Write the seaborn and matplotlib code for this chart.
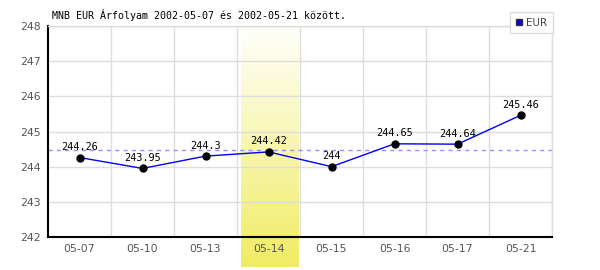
import numpy as np
import pandas as pd
import matplotlib
matplotlib.use("Agg")
import matplotlib.pyplot as plt
import seaborn as sns
from matplotlib.lines import Line2D
from matplotlib.colors import LinearSegmentedColormap

dates = ["05-07", "05-10", "05-13", "05-14", "05-15", "05-16", "05-17", "05-21"]
values = [244.26, 243.95, 244.3, 244.42, 244.0, 244.65, 244.64, 245.46]
labels = ["244.26", "243.95", "244.3", "244.42", "244", "244.65", "244.64", "245.46"]
highlight = "05-14"
title = "MNB EUR Árfolyam 2002-05-07 és 2002-05-21 között."
series_name = "EUR"

sns.set_theme(style="white")
plt.rcParams['font.family'] = ['DejaVu Sans']

df = pd.DataFrame({"date": dates, "value": values})

fig = plt.figure(figsize=(6, 2.7), dpi=100)
ax = fig.add_axes([48/600, 1-237/270, 504/600, 211/270])

ymin, ymax = 242, 248
ax.set_ylim(ymin, ymax)
ax.set_xlim(-0.5, len(dates)-0.5)

# highlight gradient band
hi = dates.index(highlight)
cmap = LinearSegmentedColormap.from_list("hl", ["#fffffc", "#f0ec62"])
grad = np.linspace(0, 1, 256).reshape(-1, 1)
ybot = ymin - 30 * (ymax - ymin) / 211
ax.imshow(grad, cmap=cmap, aspect="auto", origin="upper",
          extent=[hi - 0.44, hi + 0.47, ybot, ymax], clip_on=False, zorder=0.5)

# grid
ax.set_yticks(range(ymin, ymax+1))
ax.set_xticks(np.arange(len(dates)) + 0.5, minor=True)
ax.grid(True, axis="y", which="major", color="#dddddd", lw=1, zorder=0)
ax.grid(True, axis="x", which="minor", color="#dddddd", lw=1, zorder=0)
ax.set_axisbelow(True)

# mean line
ax.axhline(np.mean(values), color="#9090ff", lw=1, ls=(0, (3, 3)), zorder=1)

sns.lineplot(data=df, x="date", y="value", ax=ax, color="#0000ff", lw=1,
             sort=False, zorder=2)
ax.plot(range(len(dates)), values, "o", color="black", ms=5, zorder=3)

for i, (v, t) in enumerate(zip(values, labels)):
    ax.annotate(t, (i, v), xytext=(0, 4), textcoords="offset points",
                ha="center", va="bottom", family="DejaVu Sans Mono",
                fontsize=7.4, color="black", zorder=4)

ax.set_xticks(range(len(dates)))
ax.set_xticklabels(dates)
ax.tick_params(axis="both", which="both", length=0, labelsize=7.8,
               labelcolor="#555555", pad=5)
ax.set_xlabel("")
ax.set_ylabel("")

for s in ["left", "bottom"]:
    ax.spines[s].set_color("black")
    ax.spines[s].set_linewidth(1.5)
for s in ["top", "right"]:
    ax.spines[s].set_color("#dddddd")
    ax.spines[s].set_linewidth(1)

fig.text(52/600, 1-15/270, title, family="DejaVu Sans Mono", fontsize=7.2,
         ha="left", va="center", color="black")

handle = Line2D([], [], marker="s", color="none", markerfacecolor="#0000ff",
                markeredgecolor="#333333", markersize=5)
leg = ax.legend([handle], [series_name], loc="upper right",
                bbox_to_anchor=(553/600, 1-12/270), bbox_transform=fig.transFigure,
                fontsize=7.5, frameon=True, fancybox=False, borderpad=0.55,
                handlelength=0.7, handletextpad=0.3, borderaxespad=0)
leg.get_frame().set_edgecolor("#dddddd")
leg.get_frame().set_linewidth(1)
leg.get_frame().set_facecolor("white")
leg.get_frame().set_alpha(1)
for t in leg.get_texts():
    t.set_color("#444444")

fig.savefig("out.png", dpi=100)
